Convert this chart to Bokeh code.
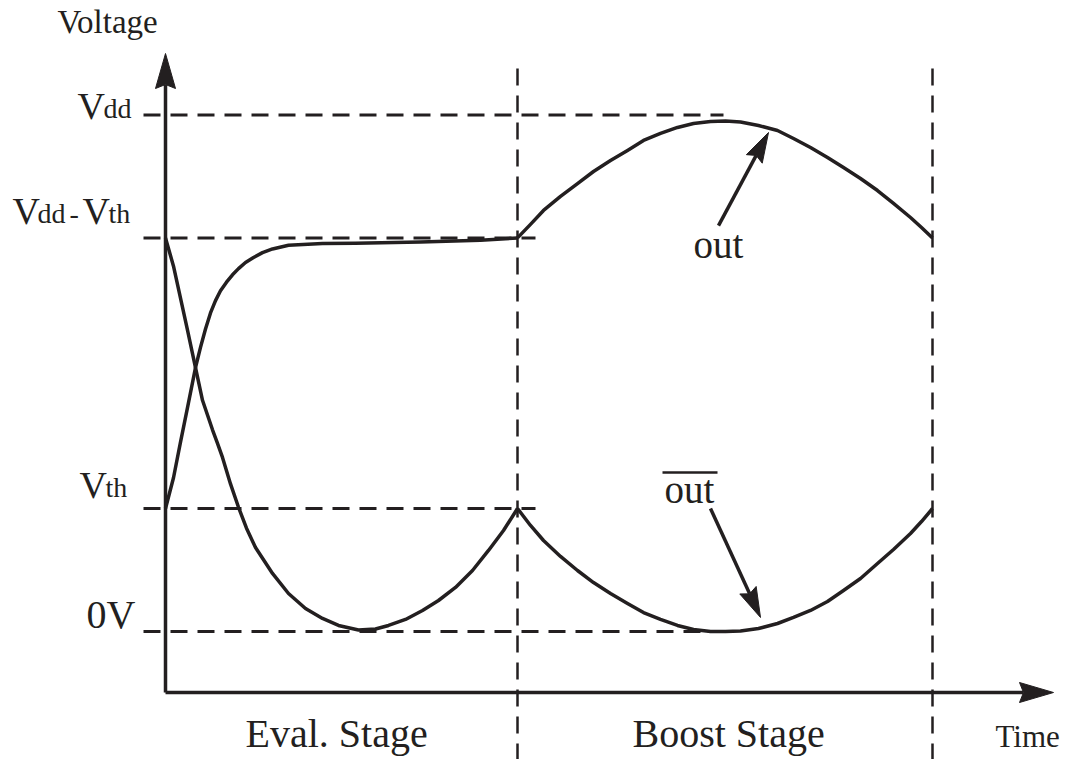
from bokeh.plotting import figure
from bokeh.models import Range1d
from bokeh.embed import file_html
from bokeh.resources import INLINE
from bokeh.core.properties import value
import math

# ---------------- data (time units, voltage units with Vth = 1) ----------------
level_names = ["0V", "Vth", "Vdd-Vth", "Vdd"]
level_values = [0.0, 1.0, 3.2, 4.2]
level_ends = [5.58, 3.70, 3.70, 5.58]
stage_bounds = [3.52, 7.67]
stage_labels = ["Eval. Stage", "Boost Stage"]

eval_out_t = [0.00, 0.08, 0.15, 0.22, 0.30, 0.35, 0.40, 0.45, 0.50, 0.55, 0.61, 0.67, 0.73,
              0.80, 0.88, 0.97, 1.07, 1.23, 1.57, 1.90, 2.55, 3.15, 3.52]
eval_out_v = [1.00, 1.25, 1.54, 1.82, 2.146, 2.31, 2.46, 2.59, 2.69, 2.77, 2.84, 2.90, 2.95,
              3.00, 3.04, 3.08, 3.11, 3.14, 3.154, 3.156, 3.167, 3.18, 3.20]

eval_outb_t = [0.00, 0.08, 0.15, 0.22, 0.30, 0.37, 0.42, 0.47, 0.52, 0.57, 0.65, 0.73, 0.81, 0.90,
               1.07, 1.23, 1.40, 1.57, 1.73, 1.93, 2.10, 2.23, 2.40, 2.57, 2.73, 2.90, 3.07,
               3.23, 3.38, 3.52]
eval_outb_v = [3.20, 2.97, 2.71, 2.45, 2.146, 1.88, 1.76, 1.64, 1.53, 1.415, 1.20, 1.01, 0.84,
               0.683, 0.472, 0.309, 0.187, 0.106, 0.049, 0.012, 0.02, 0.049, 0.098, 0.171,
               0.252, 0.358, 0.496, 0.659, 0.821, 1.00]

boost_t = [3.52, 3.65, 3.78, 3.95, 4.12, 4.28, 4.45, 4.62, 4.78, 4.95, 5.12, 5.28, 5.45,
           5.60, 5.75, 5.93, 6.12, 6.28, 6.45, 6.62, 6.78, 6.95, 7.12, 7.28, 7.45, 7.56, 7.67]
boost_out_v = [3.20, 3.31, 3.423, 3.537, 3.642, 3.74, 3.829, 3.911, 3.992, 4.049, 4.098, 4.13,
               4.146, 4.15, 4.142, 4.114, 4.073, 4.008, 3.935, 3.854, 3.772, 3.683, 3.585,
               3.48, 3.366, 3.285, 3.20]
boost_outb_v = [1.00, 0.862, 0.74, 0.61, 0.496, 0.398, 0.309, 0.228, 0.154, 0.098, 0.049, 0.016,
                0.0, 0.0, 0.004, 0.024, 0.065, 0.114, 0.171, 0.244, 0.333, 0.431, 0.553, 0.667,
                0.797, 0.894, 1.00]

# annotation arrows: (tail_t, tail_v, tip_t, tip_v)
out_arrow = [5.53, 3.30, 6.03, 4.057]
outb_arrow = [5.45, 1.00, 5.95, 0.114]

# ---------------- layout ----------------
W, H = 1071, 759
X_PX, Y_PX = 100.0, 123.0      # pixels per data unit
X0_REF, Y0_REF = 165.0, 631.0  # pixel position of t=0, v=0
INK = "#231f20"
FONT = value("Liberation Serif")
BASE_SHIFT = 0.34              # empirical correction of the text baseline (fraction of em)


def tx(px):
    return (px - X0_REF) / X_PX


def vy(py):
    return (Y0_REF - py) / Y_PX


p = figure(width=W, height=H, output_backend="svg", toolbar_location=None,
           x_range=Range1d(tx(0), tx(W)), y_range=Range1d(vy(H), vy(0)),
           min_border=0, min_border_left=0, min_border_right=0,
           min_border_top=0, min_border_bottom=0)
p.axis.visible = False
p.grid.visible = False
p.outline_line_color = None
p.background_fill_color = "white"
p.border_fill_color = "white"


def arrow(t0, v0, t1, v1, L, Wd, notch, lw):
    dx = (t1 - t0) * X_PX
    dy = -(v1 - v0) * Y_PX
    n = math.hypot(dx, dy)
    ux, uy = dx / n, dy / n
    px_, py_ = -uy, ux
    pts = [(0, 0), (-L * ux + Wd * px_, -L * uy + Wd * py_),
           (-(L - notch) * ux, -(L - notch) * uy),
           (-L * ux - Wd * px_, -L * uy - Wd * py_)]
    xs = [t1 + a / X_PX for a, b in pts]
    ys = [v1 - b / Y_PX for a, b in pts]
    bx = t1 - (L - notch) * ux / X_PX
    by = v1 + (L - notch) * uy / Y_PX
    p.line([t0, bx], [v0, by], line_color=INK, line_width=lw)
    p.patch(xs, ys, fill_color=INK, line_color=INK, line_width=1)


# dashed reference levels
p.segment(x0=[tx(143)] * len(level_values), y0=level_values, x1=level_ends, y1=level_values,
          line_color=INK, line_width=3, line_dash="17 10")
# dashed stage boundaries
p.segment(x0=stage_bounds, y0=[vy(68)] * 2, x1=stage_bounds, y1=[vy(765)] * 2,
          line_color=INK, line_width=2.5, line_dash="17 10")

# axes
arrow(0, vy(692), 0, vy(53), 35, 10, 4, 3.5)
arrow(0, vy(692), tx(1053), vy(692), 34, 10, 4, 3.5)

# curves
for xs, ys in [(eval_out_t, eval_out_v), (eval_outb_t, eval_outb_v),
               (boost_t, boost_out_v), (boost_t, boost_outb_v)]:
    p.line(xs, ys, line_color=INK, line_width=3.5, line_join="round")

# annotation arrows
arrow(*out_arrow, 30, 9, 4, 3.5)
arrow(*outb_arrow, 30, 9, 4, 3.5)

# texts
def txt(px, py, s, size, align="left"):
    p.text([tx(px)], [vy(py - BASE_SHIFT * size)], text=[s], text_font=FONT,
           text_font_size=f"{size}px", text_color=INK, text_align=align,
           text_baseline="alphabetic")


txt(57, 33, "Voltage", 33)
# Vdd
txt(77, 118, "V", 38)
txt(103, 118, "dd", 28)
# Vdd - Vth
txt(12, 223, "V", 38)
txt(37, 223, "dd", 28)
txt(69, 223, "-", 28)
txt(82, 223, "V", 38)
txt(108, 223, "th", 28)
# Vth
txt(79, 497, "V", 38)
txt(105, 497, "th", 28)
# 0V
txt(86, 628, "0V", 40)
# stage labels
txt(245, 747, stage_labels[0], 40)
txt(632, 747, stage_labels[1], 40)
txt(995, 747, "Time", 31)
# curve labels
txt(693, 257, "out", 39)
txt(664, 502, "out", 39)
p.line([tx(662), tx(717)], [vy(472), vy(472)], line_color=INK, line_width=2.5)

open("out.html", "w").write(file_html(p, INLINE))
